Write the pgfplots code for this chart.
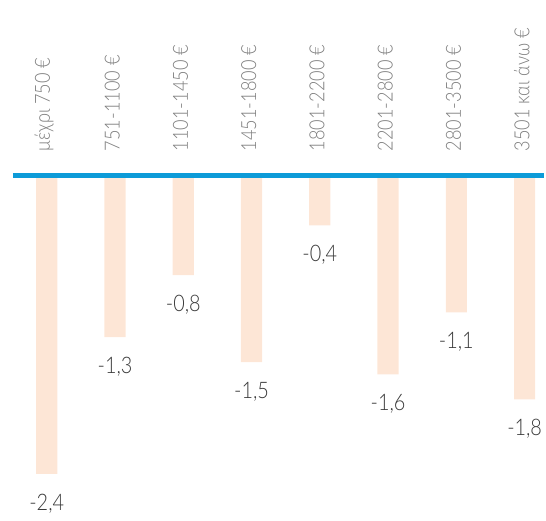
\documentclass[border=0pt]{standalone}
\usepackage{pgfplots}
\pgfplotsset{compat=1.18}
\usepackage{fontspec}
\setmainfont{Lato}[UprightFont=* Light, FakeStretch=0.87]
\definecolor{barc}{HTML}{FDE6D6}
\definecolor{linec}{HTML}{0D9BD8}
\definecolor{catc}{HTML}{7E7E7E}
\definecolor{valc}{HTML}{3A3A3A}
\begin{document}
\begin{tikzpicture}
\begin{axis}[
  scale only axis,
  width=546bp, height=523bp,
  xmin=-0.685, xmax=7.277,
  ymin=-2.776, ymax=1.414,
  axis lines=none,
  ticks=none,
  clip=false,
  /pgf/number format/assume math mode=true,
]
\path (rel axis cs:0,0) rectangle (rel axis cs:1,1);
\addplot[ybar, bar width=0.31, fill=barc, draw=none,
  nodes near coords,
  nodes near coords style={anchor=north, inner sep=0pt, yshift=-20bp, font=\fontsize{23}{26}\selectfont, text=valc,
    /pgf/number format/.cd, fixed, fixed zerofill, precision=1, use comma, assume math mode=true},
  point meta=y]
coordinates {(0,-2.4) (1,-1.3) (2,-0.8) (3,-1.5) (4,-0.4) (5,-1.6) (6,-1.1) (7,-1.8)};
\addplot[linec, line width=5bp] coordinates {(-0.495,0) (7.277,0)};
\foreach \i/\t in {0/μέχρι 750 €,1/751-1100 €,2/1101-1450 €,3/1451-1800 €,4/1801-2200 €,5/2201-2800 €,6/2801-3500 €,7/3501 και άνω €}{
  \edef\temp{\noexpand\node[rotate=90, anchor=west, text=catc, font=\noexpand\fontsize{21}{24}\noexpand\selectfont, inner sep=0pt] at (axis cs:\i-0.04,0.196) {\t};}
  \temp
}
\end{axis}
\end{tikzpicture}
\end{document}
